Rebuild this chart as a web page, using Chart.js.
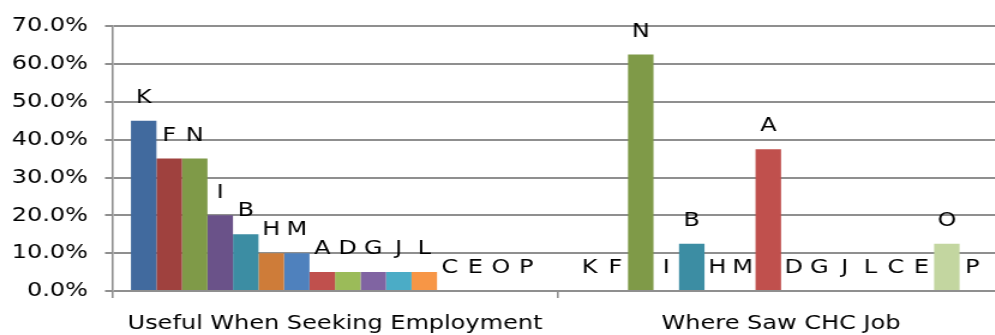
<!DOCTYPE html>
<html>
<head>
<meta charset="utf-8">
<script src="https://cdn.jsdelivr.net/npm/chart.js@4"></script>
<style>
  html, body { margin: 0; padding: 0; overflow: hidden; background: #fff; }
  /* the chart is laid out narrow and widened 1.2x, text included */
  #wrap { width: 842px; height: 335px; position: relative; transform: scaleX(1.2); transform-origin: 0 0; }
</style>
</head>
<body>
<div id="wrap"><canvas id="charts"></canvas></div>
<script>
// survey questions on the x axis
const categories = ['Useful When Seeking Employment', 'Where Saw CHC Job'];
// answer codes, one series each, in plotting order
const seriesNames = ['K', 'F', 'N', 'I', 'B', 'H', 'M', 'A', 'D', 'G', 'J', 'L', 'C', 'E', 'O', 'P'];
// percent of respondents per code
const usefulValues = [45, 35, 35, 20, 15, 10, 10, 5, 5, 5, 5, 5, 0, 0, 0, 0];
const whereSawValues = [0, 0, 62.5, 0, 12.5, 0, 0, 37.5, 0, 0, 0, 0, 0, 0, 12.5, 0];
const yTicks = [0, 10, 20, 30, 40, 50, 60, 70];

const barColors = [
  '#416A9E', '#9F413E', '#7F9A48', '#6A5289', '#3C8DA3', '#CE7C39',
  '#4F81BD', '#C0504D', '#9BBB59', '#8064A2', '#4BACC6', '#F79646',
  '#95B3D7', '#D99694', '#C3D6A0', '#B3A2C7'
];

const FONT = { family: "'DejaVu Sans'", size: 20 };
const GRID = '#8f8f8f';

// writes the series code above every bar, zero bars included
const codeLabels = {
  id: 'codeLabels',
  afterDatasetsDraw(chart) {
    const ctx = chart.ctx;
    ctx.save();
    ctx.font = FONT.size + "px 'DejaVu Sans'";
    ctx.fillStyle = '#000';
    ctx.textAlign = 'center';
    ctx.textBaseline = 'middle';
    chart.data.datasets.forEach((ds, i) => {
      chart.getDatasetMeta(i).data.forEach((bar) => {
        ctx.fillText(ds.label, bar.x, bar.y - 23);
      });
    });
    ctx.restore();
  }
};

const datasets = seriesNames.map((name, i) => ({
  label: name,
  data: [usefulValues[i], whereSawValues[i]],
  backgroundColor: barColors[i],
  borderWidth: 0,
  barPercentage: 1,
  categoryPercentage: 0.915
}));

const ctx = document.getElementById('charts').getContext('2d');
new Chart(ctx, {
  type: 'bar',
  data: { labels: categories, datasets: datasets },
  options: {
    responsive: true,
    maintainAspectRatio: false,
    animation: false,
    layout: { padding: { top: 22, right: 5.3, left: 0, bottom: 0 } },
    plugins: {
      legend: { display: false },
      tooltip: { enabled: false }
    },
    scales: {
      x: {
        grid: {
          display: true,
          offset: true,
          drawOnChartArea: false,
          tickLength: 7,
          color: GRID,
          lineWidth: 1.6
        },
        border: { display: false },
        ticks: { color: '#000', font: FONT, padding: 14, maxRotation: 0 },
        afterFit(scale) { scale.height = 44; }
      },
      y: {
        min: 0,
        max: 70,
        afterBuildTicks(scale) { scale.ticks = yTicks.map(v => ({ value: v })); },
        grid: { color: GRID, lineWidth: 2, tickLength: 5.8 },
        border: { display: true, color: GRID, width: 1.6 },
        ticks: {
          color: '#000',
          font: FONT,
          padding: 14.2,
          callback: (v) => v.toFixed(1) + '%'
        },
        afterFit(scale) { scale.width = 93.3; }
      }
    }
  },
  plugins: [codeLabels]
});
</script>
</body>
</html>
